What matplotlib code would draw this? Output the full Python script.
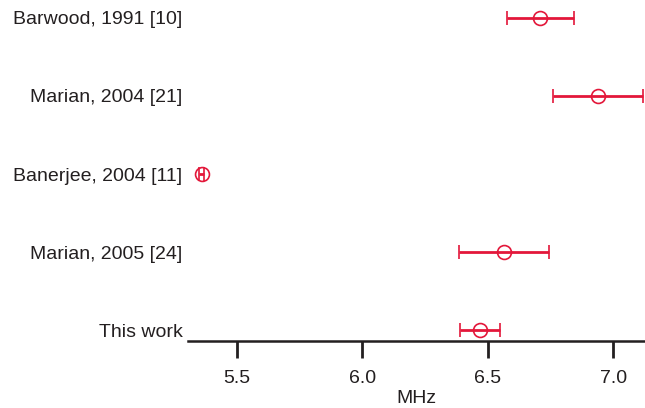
import matplotlib.pyplot as plt
import numpy as np

plt.rcParams['font.family'] = ['Liberation Sans', 'DejaVu Sans']

# dados (MHz)
fontes = ['This work', 'Marian, 2005 [24]', 'Banerjee, 2004 [11]',
          'Marian, 2004 [21]', 'Barwood, 1991 [10]']
valores = [6.47, 6.565, 5.36, 6.94, 6.71]
erros = [0.08, 0.18, 0.01, 0.18, 0.135]
ticks_x = [5.5, 6.0, 6.5, 7.0]

vermelho = '#e3173a'
preto = '#231f20'

fig = plt.figure(figsize=(6.45, 4.08), dpi=100)
ax = fig.add_axes([188 / 645, 67 / 408, 1 - 188 / 645, 1 - 67 / 408])

pos = np.arange(len(fontes))
ax.errorbar(valores, pos, xerr=erros, fmt='o', color=vermelho, mfc='none',
            mec=vermelho, ms=10, mew=1.2, elinewidth=2, capsize=5, capthick=2)

ax.set_xlim(5.305, 7.127)
ax.set_ylim(-0.14, 4.23)
ax.set_xticks(ticks_x)
ax.set_xticklabels(['%.1f' % t for t in ticks_x])
ax.set_yticks(pos)
ax.set_yticklabels(fontes)
ax.set_xlabel('MHz', fontsize=14, color=preto, labelpad=2)

for lado in ['top', 'right', 'left']:
    ax.spines[lado].set_visible(False)
ax.spines['bottom'].set_linewidth(1.8)
ax.spines['bottom'].set_color(preto)
ax.tick_params(axis='x', length=12, width=2, labelsize=14, pad=9,
               color=preto, labelcolor=preto)
ax.tick_params(axis='y', length=0, labelsize=14, pad=4, labelcolor=preto)

fig.savefig('out.png', dpi=100)
